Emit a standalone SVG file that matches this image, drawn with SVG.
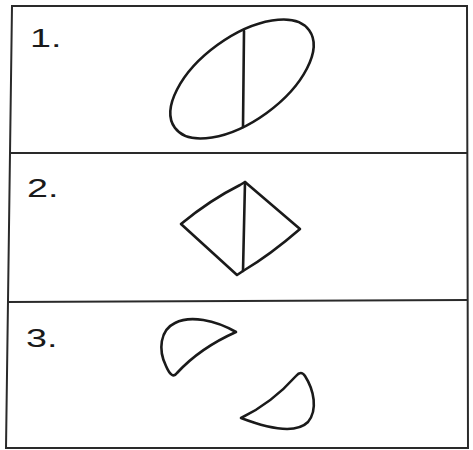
<svg xmlns="http://www.w3.org/2000/svg" width="473" height="450" viewBox="0 0 473 450">
<style>
.frame{fill:none;stroke:#2a2a2a;stroke-width:2}
.shape{fill:none;stroke:#1a1a1a;stroke-width:2.6;stroke-linejoin:round;stroke-linecap:round}
.lbl{font-family:"Liberation Sans",Arial,sans-serif;font-size:26px;fill:#1a1a1a}
</style>
<rect width="473" height="450" fill="#fff"/>
<g id="frame">
<path class="frame" d="M12,6 L467,6 L468,448 L6,448 Z"/>
<path class="frame" d="M10,153 L467,153"/>
<path class="frame" d="M8,302 L467,300"/>
</g>
<g id="panel1">
<text class="lbl" transform="translate(30,47) scale(1.45,1)">1.</text>
<ellipse class="shape" cx="242" cy="79" rx="83" ry="42" transform="rotate(-36 242 79)"/>
<path class="shape" d="M244,31 L243,127"/>
</g>
<g id="panel2">
<text class="lbl" transform="translate(27,197) scale(1.45,1)">2.</text>
<path class="shape" d="M245,182 L300,229 Q270,255 243,271 L237,275 L181,224 Q210,200 240,185 Z"/>
<path class="shape" d="M245,182 L243,271"/>
</g>
<g id="panel3">
<text class="lbl" transform="translate(26,347) scale(1.45,1)">3.</text>
<path class="shape" d="M236,332 C215,320 190,315 175,323 C160,330 158,350 166,366 Q172,380 177,373 Q200,348 236,332 Z"/>
<path class="shape" d="M241,418 Q272,403 296,376 Q301,370 305,376 C314,390 318,410 308,422 C298,432 275,431 241,418 Z"/>
</g>
</svg>
